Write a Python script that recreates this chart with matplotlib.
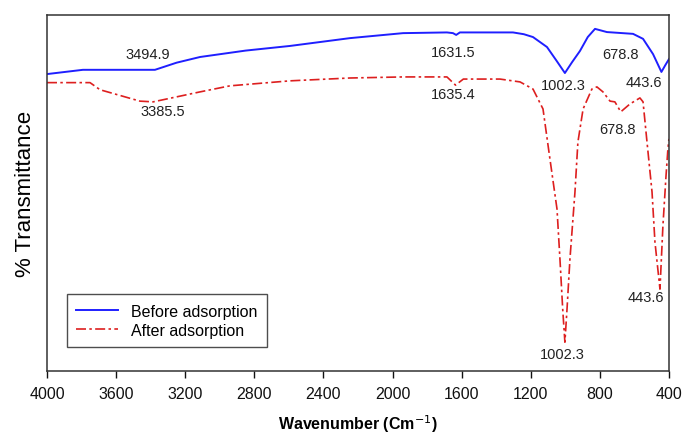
import matplotlib
matplotlib.use("Agg")
import matplotlib.pyplot as plt

plt.rcParams["font.family"] = ["Liberation Sans", "DejaVu Sans"]

# ── Data ──────────────────────────────────────────────────────────────────────
before_wn = [4000, 3792, 3600, 3375, 3250, 3114, 2850, 2594, 2246, 1939,
             1685, 1650, 1631.5, 1610, 1303, 1240, 1187, 1106, 1050, 1002.3,
             960, 915, 870, 828, 759, 608, 550, 492, 443.6, 420, 400]
before_t = [83.4, 84.6, 84.6, 84.6, 86.6, 88.2, 90.0, 91.3, 93.5, 94.9,
            95.1, 94.9, 94.4, 95.1, 95.1, 94.6, 93.8, 91.0, 87.1, 83.7,
            86.8, 89.9, 93.8, 96.1, 95.2, 94.7, 93.3, 89.0, 84.0, 86.0, 87.6]

after_wn = [4000, 3751, 3693, 3462, 3385.5, 3114, 2941, 2594, 2246, 1939,
            1685, 1635.4, 1590, 1378, 1262, 1187, 1129, 1089, 1048, 1031,
            1015, 1002.3, 990, 973, 944, 927, 897, 846, 817, 782, 741, 713,
            678.8, 626, 568, 550, 527, 498, 481, 452, 435, 417, 406, 400]
after_t = [81.0, 81.0, 79.0, 75.8, 75.6, 78.4, 80.1, 81.5, 82.3, 82.6,
           82.6, 80.3, 82.0, 82.0, 81.2, 79.2, 73.6, 59.6, 45.5, 31.5,
           17.4, 8.1, 17.4, 31.5, 50.3, 64.3, 73.6, 79.2, 79.8, 78.4, 75.8,
           75.6, 72.8, 75.0, 76.7, 75.6, 64.3, 50.3, 36.2, 23.0, 40.7, 54.8,
           62.4, 65.2]

# peak labels: (text, wavenumber, transmittance position)
peak_text = ["3494.9", "3385.5", "1631.5", "1635.4", "1002.3", "678.8",
             "443.6", "678.8", "443.6", "1002.3"]
peak_x = [3415, 3329, 1650, 1650, 1013, 683, 545, 695, 533, 1019]
peak_y = [89.0, 73.0, 89.6, 77.8, 80.3, 89.0, 81.2, 68.0, 20.8, 4.8]

xticks = [4000, 3600, 3200, 2800, 2400, 2000, 1600, 1200, 800, 400]

# ── Figure ────────────────────────────────────────────────────────────────────
fig = plt.figure(figsize=(6.84, 4.39), dpi=100)
ax = fig.add_axes([0.0687, 0.1526, 0.9093, 0.811])

ax.plot(before_wn, before_t, color="#1f1fff", lw=1.4, label="Before adsorption")
red, = ax.plot(after_wn, after_t, color="#dd1f1f", lw=1.2,
               label="After adsorption")
red.set_dashes([6, 2, 1.5, 2])

for s, x, y in zip(peak_text, peak_x, peak_y):
    ax.text(x, y, s, ha="center", va="center", fontsize=10.5, color="#222222")

ax.set_xlim(4000, 400)
ax.set_ylim(0, 100)
ax.set_xticks(xticks)
ax.set_yticks([])
ax.tick_params(axis="x", direction="out", length=5, width=1, labelsize=11.5,
               pad=6, colors="#111111")
for sp in ax.spines.values():
    sp.set_linewidth(1.1)
    sp.set_color("#333333")

ax.set_xlabel("Wavenumber (Cm$^{-1}$)", fontsize=11.5, fontweight="bold",
              labelpad=8)
ax.set_ylabel("% Transmittance", fontsize=16, labelpad=8)

leg = ax.legend(loc="lower left", bbox_to_anchor=(0.032, 0.067),
                borderaxespad=0, fontsize=11.5, frameon=True, fancybox=False,
                edgecolor="#222222", handlelength=2.6, handletextpad=0.8,
                labelspacing=0.25, borderpad=0.6)
leg.get_frame().set_linewidth(1.0)

fig.savefig("out.png", dpi=100)
